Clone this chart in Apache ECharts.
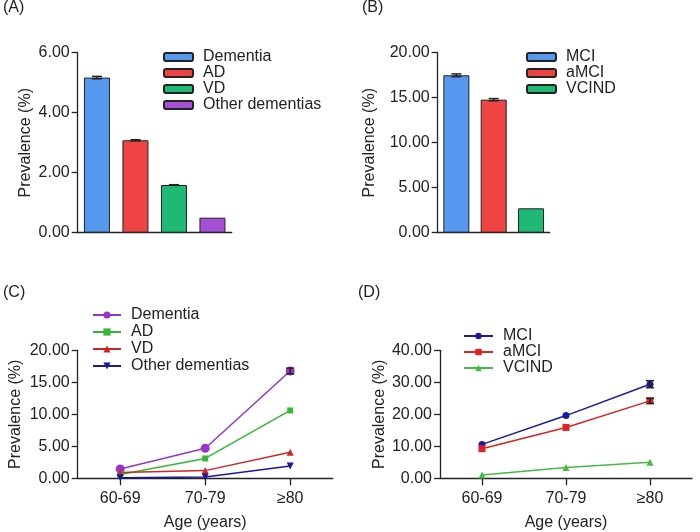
<!DOCTYPE html>
<html>
<head>
<meta charset="utf-8">
<script src="https://cdn.jsdelivr.net/npm/echarts@6/dist/echarts.min.js"></script>
<style>
  html, body { margin: 0; padding: 0; background: #fff; }
  #main { width: 700px; height: 532px; }
</style>
</head>
<body>
<div id="main"></div>
<script>
// panel A: dementia subtypes
var catsA = ['Dementia', 'AD', 'VD', 'Other dementias'];
var valsA = [5.17, 3.08, 1.59, 0.50];
var errA = [0.04, 0.02, 0.01, 0];

// panel B: MCI subtypes
var catsB = ['MCI', 'aMCI', 'VCIND'];
var valsB = [17.49, 14.78, 2.71];
var errB = [0.15, 0.12, 0];

// panels C and D: by age group
var ageGroups = ['60-69', '70-79', '≥80'];
var dementiaAge = [1.45, 4.69, 16.77];
var adAge = [0.6, 3.1, 10.6];
var vdAge = [0.9, 1.2, 4.06];
var otherAge = [0.1, 0.2, 1.92];
var dementiaErr = [0, 0, 0.45];
var adErr = [0, 0, 0];
var vdErr = [0, 0, 0];
var otherErr = [0, 0, 0];

var mciAge = [10.6, 19.6, 29.4];
var amciAge = [9.25, 15.9, 24.2];
var vcindAge = [1.0, 3.4, 5.0];
var mciErr = [0, 0, 1.1];
var amciErr = [0, 0, 0.8];
var vcindErr = [0, 0, 0];

var barColorsA = ['#5599ee', '#f04343', '#1fb874', '#a64fd6'];
var barColorsB = ['#5599ee', '#f04343', '#1fb874'];

var ink = '#222';
var font = 'Arial, "Liberation Sans", sans-serif';

var myChart = echarts.init(document.getElementById('main'));

function yAxisOf(grid, max, interval, gap) {
    return {
        type: 'value', gridIndex: grid, min: 0, max: max, interval: interval,
        name: 'Prevalence (%)', nameLocation: 'middle', nameGap: gap,
        nameTextStyle: { color: ink, fontSize: 16, fontFamily: font },
        axisLine: { show: true, lineStyle: { color: ink, width: 1.3 } },
        axisTick: { show: true, length: 6, lineStyle: { color: ink, width: 1.3 } },
        axisLabel: { color: ink, fontSize: 16, fontFamily: font, margin: 8,
            formatter: function (v) { return v.toFixed(2); } },
        splitLine: { show: false }
    };
}

function xAxisOf(grid, cats, ticks) {
    return {
        type: 'category', gridIndex: grid, data: cats,
        name: ticks ? 'Age (years)' : '', nameLocation: 'middle', nameGap: 36,
        nameTextStyle: { color: ink, fontSize: 16, fontFamily: font },
        axisLine: { show: true, lineStyle: { color: ink, width: 1.3 } },
        axisTick: { show: ticks, alignWithLabel: true, length: 7, lineStyle: { color: ink, width: 1.3 } },
        axisLabel: { show: ticks, color: ink, fontSize: 16, fontFamily: font, margin: 12 }
    };
}

// error bars drawn as a custom series: [index, low, high]; zero error draws nothing
function errorSeries(xi, yi, vals, errs, cap) {
    return {
        type: 'custom', xAxisIndex: xi, yAxisIndex: yi, z: 10,
        data: vals.map(function (v, i) { return [i, v - errs[i], v + errs[i]]; }),
        renderItem: function (params, api) {
            if (api.value(1) === api.value(2)) return null;
            var lo = api.coord([api.value(0), api.value(1)]);
            var hi = api.coord([api.value(0), api.value(2)]);
            var st = { stroke: ink, lineWidth: 1.5 };
            return {
                type: 'group',
                children: [
                    { type: 'line', shape: { x1: hi[0], y1: hi[1], x2: lo[0], y2: lo[1] }, style: st },
                    { type: 'line', shape: { x1: hi[0] - cap, y1: hi[1], x2: hi[0] + cap, y2: hi[1] }, style: st },
                    { type: 'line', shape: { x1: lo[0] - cap, y1: lo[1], x2: lo[0] + cap, y2: lo[1] }, style: st }
                ]
            };
        }
    };
}

// one bar series per category so each gets its own legend entry
function barSeries(xi, yi, cats, vals, colors) {
    return cats.map(function (c, i) {
        return {
            name: c, type: 'bar', xAxisIndex: xi, yAxisIndex: yi,
            barWidth: 26, barGap: '-100%',
            data: vals.map(function (v, j) { return j === i ? v : '-'; }),
            itemStyle: { color: colors[i], borderColor: ink, borderWidth: 1 }
        };
    });
}

function lineSeries(name, xi, yi, vals, color, symbol, size, rotate) {
    return {
        name: name, type: 'line', xAxisIndex: xi, yAxisIndex: yi, data: vals,
        symbol: symbol, symbolSize: size, symbolRotate: rotate || 0,
        lineStyle: { color: color, width: 1.5 },
        itemStyle: { color: color }
    };
}

var legendText = { color: ink, fontSize: 16, fontFamily: font, padding: [0, 0, 0, 5] };

var series = []
    .concat(barSeries(0, 0, catsA, valsA, barColorsA))
    .concat([errorSeries(0, 0, valsA, errA, 5)])
    .concat(barSeries(1, 1, catsB, valsB, barColorsB))
    .concat([errorSeries(1, 1, valsB, errB, 5)])
    .concat([
        lineSeries('Dementia ', 2, 2, dementiaAge, '#9933cc', 'circle', 9),
        lineSeries('AD ', 2, 2, adAge, '#33b833', 'rect', 6),
        lineSeries('VD ', 2, 2, vdAge, '#d02525', 'triangle', 7),
        lineSeries('Other dementias ', 2, 2, otherAge, '#1a1a99', 'triangle', 7, 180),
        errorSeries(2, 2, dementiaAge, dementiaErr, 4),
        errorSeries(2, 2, adAge, adErr, 3),
        errorSeries(2, 2, vdAge, vdErr, 3),
        errorSeries(2, 2, otherAge, otherErr, 3),
        lineSeries('MCI ', 3, 3, mciAge, '#1a1aa0', 'circle', 7),
        lineSeries('aMCI ', 3, 3, amciAge, '#dd2222', 'rect', 7),
        lineSeries('VCIND ', 3, 3, vcindAge, '#44bb44', 'triangle', 7),
        errorSeries(3, 3, mciAge, mciErr, 4),
        errorSeries(3, 3, amciAge, amciErr, 4),
        errorSeries(3, 3, vcindAge, vcindErr, 4)
    ]);

var option = {
    animation: false,
    backgroundColor: '#fff',
    grid: [
        { left: 77.7, top: 52.7, width: 154, height: 180 },
        { left: 437.7, top: 52.7, width: 112, height: 180 },
        { left: 77.7, top: 350.3, width: 255, height: 128 },
        { left: 440, top: 350.3, width: 252, height: 128 }
    ],
    xAxis: [
        xAxisOf(0, catsA, false),
        xAxisOf(1, catsB, false),
        xAxisOf(2, ageGroups, true),
        xAxisOf(3, ageGroups, true)
    ],
    yAxis: [
        yAxisOf(0, 6, 2, 44),
        yAxisOf(1, 20, 5, 60),
        yAxisOf(2, 20, 5, 54),
        yAxisOf(3, 40, 10, 52)
    ],
    legend: [
        { data: catsA, left: 158, top: 44, orient: 'vertical', icon: 'roundRect',
          itemWidth: 29, itemHeight: 8, itemGap: 0, textStyle: legendText },
        { data: catsB, left: 521, top: 44, orient: 'vertical', icon: 'roundRect',
          itemWidth: 29, itemHeight: 8, itemGap: 0, textStyle: legendText },
        { data: ['Dementia ', 'AD ', 'VD ', 'Other dementias '], left: 87, top: 302, orient: 'vertical',
          itemWidth: 28, itemHeight: 9, itemGap: 1, textStyle: legendText },
        { data: ['MCI ', 'aMCI ', 'VCIND '], left: 458, top: 323, orient: 'vertical',
          itemWidth: 29, itemHeight: 8, itemGap: 0, textStyle: legendText }
    ],
    graphic: [
        { type: 'text', left: 3, top: 0, style: { text: '(A)', fill: ink, font: '16px ' + font } },
        { type: 'text', left: 362, top: 0, style: { text: '(B)', fill: ink, font: '16px ' + font } },
        { type: 'text', left: 3, top: 285, style: { text: '(C)', fill: ink, font: '16px ' + font } },
        { type: 'text', left: 358, top: 285, style: { text: '(D)', fill: ink, font: '16px ' + font } }
    ],
    series: series
};

myChart.setOption(option);
</script>
</body>
</html>
